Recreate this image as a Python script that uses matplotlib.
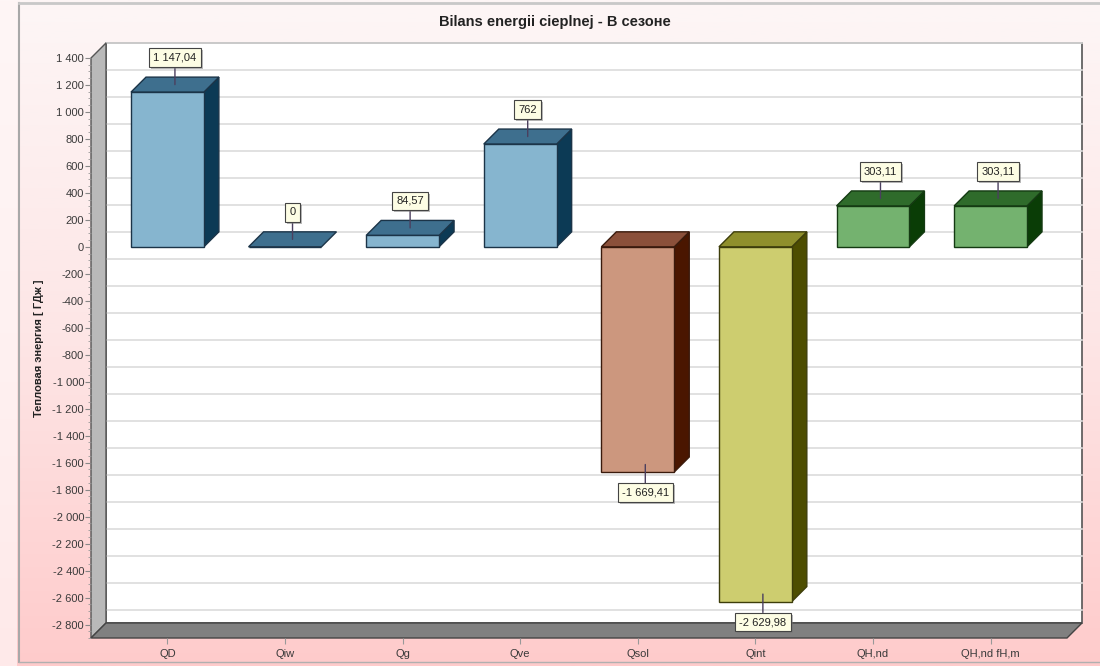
import numpy as np
import matplotlib
matplotlib.use("Agg")
import matplotlib.pyplot as plt
from matplotlib.patches import Polygon, Rectangle
from matplotlib.colors import LinearSegmentedColormap
from matplotlib.ticker import FixedLocator, MultipleLocator, FuncFormatter
from matplotlib import patheffects

plt.rcParams['font.family'] = ['Liberation Sans', 'DejaVu Sans']

# --- data ---
categories = ["QD", "Qiw", "Qg", "Qve", "Qsol", "Qint", "QH,nd", "QH,nd fH,m"]
values = [1147.04, 0, 84.57, 762, -1669.41, -2629.98, 303.11, 303.11]
front_colors = ["#86b5cf", "#86b5cf", "#86b5cf", "#86b5cf", "#cc977e", "#cdcd6f", "#74b26f", "#74b26f"]
top_colors = ["#3e6f8e", "#3e6f8e", "#3e6f8e", "#3e6f8e", "#8b503a", "#8f8f2c", "#2f6b2b", "#2f6b2b"]
side_colors = ["#0c3a55", "#0c3a55", "#0c3a55", "#0c3a55", "#4a1600", "#4d4d00", "#0a3d06", "#0a3d06"]
edge_colors = ["#1b3448", "#1b3448", "#1b3448", "#1b3448", "#3a1a0c", "#3d3d0a", "#143a12", "#143a12"]
y_ticks = list(range(-2800, 1401, 200))

TITLE = "Bilans energii cieplnej - В сезоне"
YLABEL = "Тепловая энергия [ ГДж ]"

W, H = 1100, 666
DEPTH = 15            # 3d depth of the walls and bars, pixels
BAR_W = 0.62
XLIM = (-0.65, 7.65)
YLIM = (-2900, 1400)


def pl_num(v):
    s = f"{abs(v):,.2f}".replace(",", " ").replace(".", ",")
    if s.endswith(",00"):
        s = s[:-3]
    return ("-" if v < 0 else "") + s


fig = plt.figure(figsize=(W / 100, H / 100), dpi=100)

# pinkish vertical gradient behind everything
bg = fig.add_axes([0, 0, 1, 1], zorder=-10)
grad = np.linspace(0, 1, 256).reshape(-1, 1)
cmap = LinearSegmentedColormap.from_list("bgpink", ["#ffcbcb", "#fde6e6", "#fdf6f6"])
bg.imshow(grad, aspect="auto", cmap=cmap, extent=[0, 1, 0, 1], origin="lower")
bg.add_patch(Rectangle((0, 0), 17 / W, 1, fc="#fff6f6", alpha=0.7, ec="none"))
bg.plot([19 / W, 19 / W], [4 / H, 1 - 3 / H], color="#a8a8a8", lw=1.5)
bg.plot([19 / W, 1], [1 - 3 / H, 1 - 3 / H], color="#c8c8c8", lw=2)
bg.plot([19 / W, 1], [4 / H, 4 / H], color="#b0b0b0", lw=1)
bg.set_xlim(0, 1)
bg.set_ylim(0, 1)
bg.axis("off")

fig.text(555 / W, 1 - 22 / H, TITLE, ha="center", va="center",
         fontsize=10.5, fontweight="bold", color="#222222")

# front plane of the 3d box
ax_l, ax_b, ax_w, ax_h = 91, 28, 976, 580
ax = fig.add_axes([ax_l / W, ax_b / H, ax_w / W, ax_h / H])
ax.patch.set_alpha(0)
ax.set_xlim(*XLIM)
ax.set_ylim(*YLIM)
for sp in ax.spines.values():
    sp.set_visible(False)

ddx = DEPTH * (XLIM[1] - XLIM[0]) / ax_w
ddy = DEPTH * (YLIM[1] - YLIM[0]) / ax_h
x0, x1 = XLIM
y0, y1 = YLIM

# back wall, grid, left wall, floor
ax.add_patch(Rectangle((x0 + ddx, y0 + ddy), x1 - x0, y1 - y0, fc="white",
                       ec="#555555", lw=1.2, zorder=0, clip_on=False))
for t in y_ticks:
    ax.plot([x0 + ddx, x1 + ddx], [t + ddy, t + ddy], color="#dcdcdc",
            lw=1.2, zorder=0.5, clip_on=False)
ax.add_patch(Polygon([(x0, y0), (x0, y1), (x0 + ddx, y1 + ddy), (x0 + ddx, y0 + ddy)],
                     closed=True, fc="#b9b9b9", ec="#555555", lw=1, zorder=1, clip_on=False))
ax.add_patch(Polygon([(x0, y0), (x1, y0), (x1 + ddx, y0 + ddy), (x0 + ddx, y0 + ddy)],
                     closed=True, fc="#808080", ec="#444444", lw=1, zorder=1, clip_on=False))

# bars: side and top faces as parallelograms, front face through ax.bar
xs = np.arange(len(categories))
for i, v in enumerate(values):
    left, right = i - BAR_W / 2, i + BAR_W / 2
    lo, hi = min(0, v), max(0, v)
    ec = edge_colors[i]
    if v != 0:
        ax.add_patch(Polygon([(right, lo), (right, hi), (right + ddx, hi + ddy), (right + ddx, lo + ddy)],
                             closed=True, fc=side_colors[i], ec=ec, lw=1, zorder=3))
    ax.add_patch(Polygon([(left, hi), (right, hi), (right + ddx, hi + ddy), (left + ddx, hi + ddy)],
                         closed=True, fc=top_colors[i], ec=ec, lw=1, zorder=3))
ax.bar(xs, values, width=BAR_W, color=front_colors, edgecolor=edge_colors, lw=1, zorder=4)

# value callouts
for i, v in enumerate(values):
    anchor = (i + ddx / 2, v + ddy / 2)
    off = (0, 27) if v >= 0 else (0, -28)
    ann = ax.annotate(pl_num(v), xy=anchor, xytext=off, textcoords="offset pixels",
                      ha="center", va="center", fontsize=8, color="#222222", zorder=6,
                      bbox=dict(boxstyle="square,pad=0.38", fc="#fdfde4", ec="#444444", lw=0.8),
                      arrowprops=dict(arrowstyle="-", color="#4b3f5e", lw=1,
                                      shrinkA=0, shrinkB=0))
    ann.get_bbox_patch().set_path_effects([
        patheffects.SimplePatchShadow(offset=(1.5, -1.5), shadow_rgbFace="#777777", alpha=0.5),
        patheffects.Normal()])

# axes ticks
ax.yaxis.set_major_locator(FixedLocator(y_ticks))
ax.yaxis.set_minor_locator(MultipleLocator(50))
ax.yaxis.set_major_formatter(FuncFormatter(lambda v, p: f"{int(round(v)):,}".replace(",", " ")))
ax.tick_params(axis="y", which="major", length=4, width=0.8, color="#888888",
               labelsize=8, labelcolor="#3a3a3a", pad=1)
ax.tick_params(axis="y", which="minor", length=2, width=0.6, color="#999999")
ax.set_xticks(xs)
ax.set_xticklabels(categories)
ax.tick_params(axis="x", length=4, width=0.8, color="#999999",
               labelsize=8, labelcolor="#3a3a3a", pad=4)
ax.set_ylabel(YLABEL, fontsize=8, fontweight="bold", color="#222222")
ax.yaxis.set_label_coords(-(91 - 44) / ax_w, 0.5)

fig.savefig("out.png", dpi=100)
